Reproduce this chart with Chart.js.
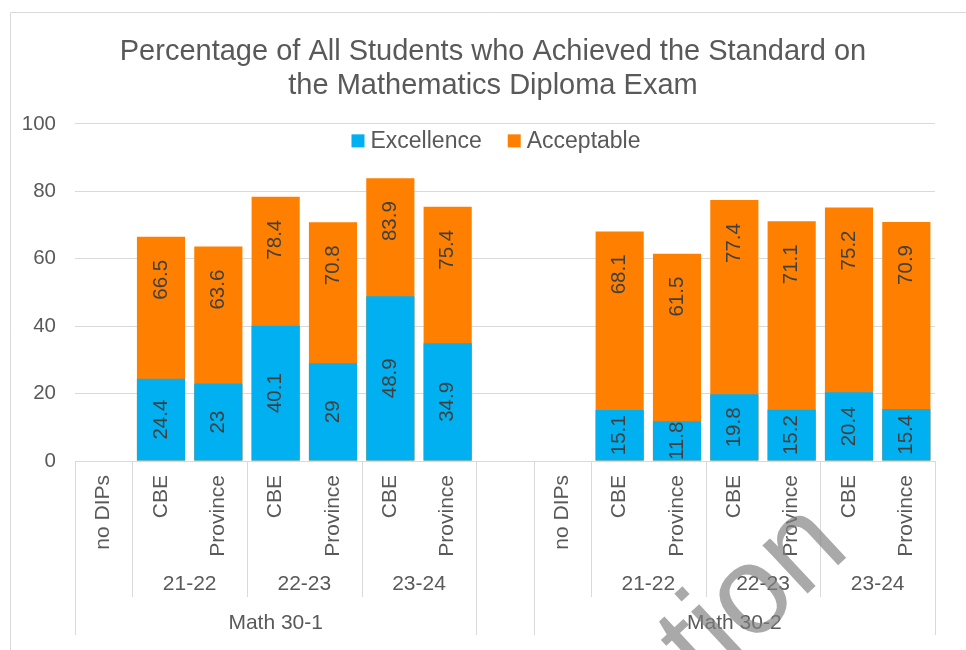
<!DOCTYPE html>
<html lang="en">
<head>
  <meta charset="UTF-8" />
  <title>Mathematics Diploma Exam</title>
  <script src="https://cdn.jsdelivr.net/npm/chart.js"></script>
  <style>
    body { margin: 0; background: #fff; }
    canvas { display: block; }
  </style>
</head>
<body>
  <canvas id="chart" width="966" height="650"></canvas>

  <script>
    // data
    const categories = ["no DIPs", "CBE", "Province", "CBE", "Province", "CBE", "Province", "",
                        "no DIPs", "CBE", "Province", "CBE", "Province", "CBE", "Province"];
    const yearLabels = ["", "21-22", "21-22", "22-23", "22-23", "23-24", "23-24", "",
                        "", "21-22", "21-22", "22-23", "22-23", "23-24", "23-24"];
    const courseLabels = ["Math 30-1", "Math 30-1", "Math 30-1", "Math 30-1", "Math 30-1", "Math 30-1", "Math 30-1", "",
                          "Math 30-2", "Math 30-2", "Math 30-2", "Math 30-2", "Math 30-2", "Math 30-2", "Math 30-2"];
    const excellence = [null, 24.4, 23, 40.1, 29, 48.9, 34.9, null, null, 15.1, 11.8, 19.8, 15.2, 20.4, 15.4];
    const acceptable = [null, 66.5, 63.6, 78.4, 70.8, 83.9, 75.4, null, null, 68.1, 61.5, 77.4, 71.1, 75.2, 70.9];
    const yTicks = [0, 20, 40, 60, 80, 100];

    const FONT = '"Liberation Sans", Arial, sans-serif';
    const TEXT = "#595959";
    const LINE = "#d9d9d9";

    // value labels, rotated like the Excel ones
    const barLabels = {
      id: "barLabels",
      afterDatasetsDraw(chart) {
        const ctx = chart.ctx;
        ctx.save();
        ctx.font = "20.5px " + FONT;
        ctx.fillStyle = "#404040";
        ctx.textAlign = "center";
        ctx.textBaseline = "middle";
        chart.data.datasets.forEach((ds, i) => {
          chart.getDatasetMeta(i).data.forEach((bar, j) => {
            const v = ds.data[j];
            if (v == null) return;
            const y = i === 0 ? (bar.y + bar.base) / 2 : bar.y + 43;
            ctx.save();
            ctx.translate(bar.x, y);
            ctx.rotate(-Math.PI / 2);
            ctx.fillText(String(v), 0, 0);
            ctx.restore();
          });
        });
        ctx.restore();
      }
    };

    // group a label row into runs of equal, non-empty labels
    function runs(row) {
      const out = [];
      row.forEach((lab, i) => {
        const last = out[out.length - 1];
        if (last && last.text === lab) last.end = i;
        else out.push({ text: lab, start: i, end: i });
      });
      return out.filter(r => r.text !== "");
    }

    // multi level axis, outer frame, legend inside the plot, watermark
    const decorations = {
      id: "decorations",
      afterLayout(chart) {
        // the Excel title is centred on the whole chart box, which starts left of the canvas edge
        chart.titleBlock.left = 51;
      },
      afterDraw(chart) {
        const ctx = chart.ctx;
        const x = chart.scales.x;
        const area = chart.chartArea;
        const w = x.getPixelForValue(1) - x.getPixelForValue(0);
        const edge = k => x.getPixelForValue(0) - w / 2 + k * w;
        const bottom = area.bottom;

        ctx.save();
        ctx.strokeStyle = LINE;
        ctx.lineWidth = 1;

        // frame
        ctx.beginPath();
        ctx.moveTo(10.5, 650); ctx.lineTo(10.5, 12.5); ctx.lineTo(966, 12.5);
        ctx.stroke();

        // separators: short ones between years, long ones around courses
        const yearRuns = runs(yearLabels);
        const courseRuns = runs(courseLabels);
        const shortEdges = new Set();
        yearRuns.forEach(r => { shortEdges.add(r.start); shortEdges.add(r.end + 1); });
        const longEdges = new Set();
        courseRuns.forEach(r => { longEdges.add(r.start); longEdges.add(r.end + 1); });
        shortEdges.forEach(k => {
          if (longEdges.has(k)) return;
          const px = Math.round(edge(k)) + 0.5;
          ctx.beginPath(); ctx.moveTo(px, bottom); ctx.lineTo(px, bottom + 136); ctx.stroke();
        });
        longEdges.forEach(k => {
          const px = Math.round(edge(k)) + 0.5;
          ctx.beginPath(); ctx.moveTo(px, bottom); ctx.lineTo(px, bottom + 174); ctx.stroke();
        });

        ctx.fillStyle = TEXT;
        ctx.textAlign = "center";
        ctx.textBaseline = "middle";
        ctx.font = "21px " + FONT;
        yearRuns.forEach(r => {
          ctx.fillText(r.text, (edge(r.start) + edge(r.end + 1)) / 2, bottom + 123);
        });
        courseRuns.forEach(r => {
          ctx.fillText(r.text, (edge(r.start) + edge(r.end + 1)) / 2, bottom + 162);
        });

        // legend
        ctx.font = "23px " + FONT;
        const items = chart.data.datasets.map(ds => ({ text: ds.label, color: ds.backgroundColor, tw: ctx.measureText(ds.label).width }));
        const box = 13, gap = 6, sep = 26;
        let total = items.reduce((s, it) => s + box + gap + it.tw, 0) + sep * (items.length - 1);
        const tb = chart.titleBlock;
        let lx = (tb.left + tb.right) / 2 - total / 2 + 3;
        const ly = area.top + 17;
        ctx.textAlign = "left";
        items.forEach(it => {
          ctx.fillStyle = it.color;
          ctx.fillRect(lx, ly - box / 2, box, box);
          ctx.fillStyle = TEXT;
          ctx.fillText(it.text, lx + box + gap, ly + 1);
          lx += box + gap + it.tw + sep;
        });

        // watermark remnant in the lower right corner
        ctx.save();
        ctx.fillStyle = "rgba(128,128,128,0.68)";
        ctx.font = "125px " + FONT;
        ctx.textAlign = "right";
        ctx.textBaseline = "alphabetic";
        ctx.translate(852, 552);
        ctx.rotate(-43 * Math.PI / 180);
        ctx.fillText("tion", 0, 0);
        ctx.restore();

        ctx.restore();
      }
    };

    new Chart(document.getElementById("chart"), {
      type: "bar",
      data: {
        labels: categories,
        datasets: [
          { label: "Excellence", data: excellence, backgroundColor: "#00b0f0", grouped: false,
            barPercentage: 0.84, categoryPercentage: 1 },
          { label: "Acceptable", data: acceptable, backgroundColor: "#ff8000", grouped: false,
            barPercentage: 0.84, categoryPercentage: 1 }
        ]
      },
      options: {
        responsive: false,
        animation: false,
        layout: { padding: { left: 0, right: 31, top: 0, bottom: 0 } },
        scales: {
          x: {
            grid: { display: false, drawTicks: false },
            border: { display: true, color: LINE },
            ticks: {
              color: TEXT, font: { size: 21, family: FONT },
              minRotation: 90, maxRotation: 90, padding: 14, autoSkip: false
            },
            afterFit(scale) { scale.height = 189; }
          },
          y: {
            min: 0, max: 100,
            afterBuildTicks(scale) { scale.ticks = yTicks.map(v => ({ value: v })); },
            grid: { color: LINE, drawTicks: false },
            border: { display: false },
            ticks: { color: TEXT, font: { size: 20.5, family: FONT }, padding: 19 },
            afterFit(scale) { scale.width = 75; }
          }
        },
        plugins: {
          legend: { display: false },
          tooltip: { enabled: false },
          title: {
            display: true,
            text: ["Percentage of All Students who Achieved the Standard on", "the Mathematics Diploma Exam"],
            color: TEXT,
            font: { size: 29, family: FONT, weight: "normal", lineHeight: 1.17 },
            padding: { top: 35, bottom: 21 }
          }
        }
      },
      plugins: [barLabels, decorations]
    });
  </script>
</body>
</html>
